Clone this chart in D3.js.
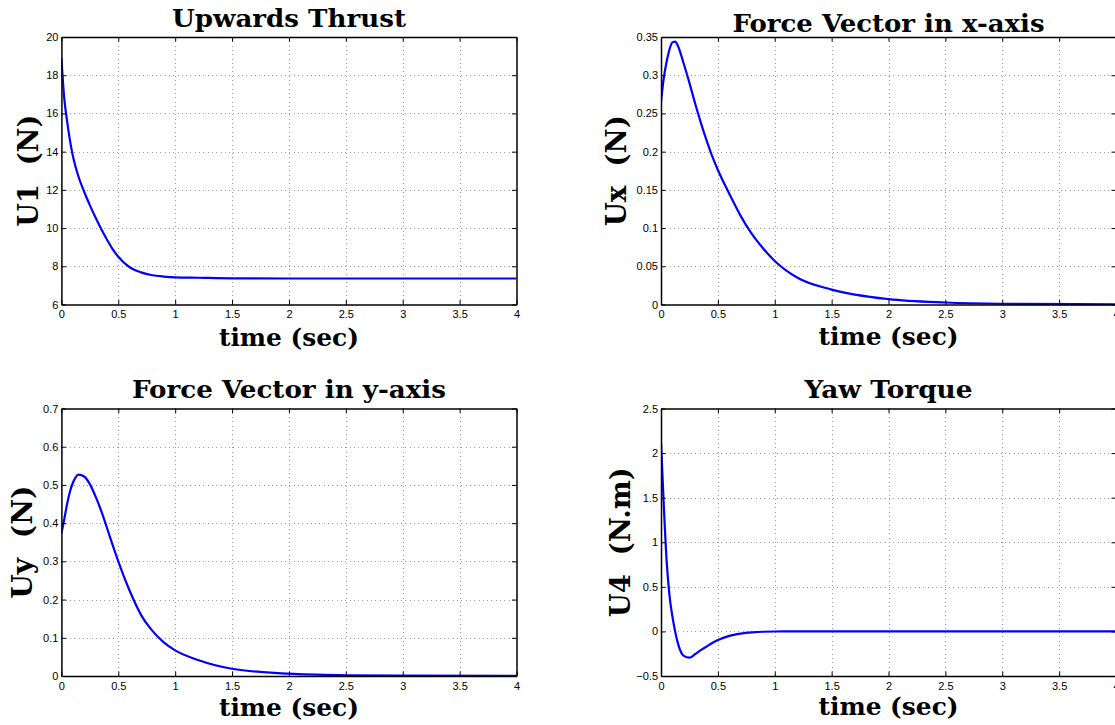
<!DOCTYPE html>
<html>
<head>
<meta charset="utf-8">
<script src="https://cdn.jsdelivr.net/npm/d3@7"></script>
<style>
  html, body { margin: 0; padding: 0; background: #fff; }
  svg { display: block; }
  .tick text { font-family: "Liberation Sans", Arial, sans-serif; font-size: 11px; fill: #000; }
  .lbl { font-family: "DejaVu Serif", serif; font-weight: bold; fill: #000; white-space: pre; }
</style>
</head>
<body>
<svg id="chart" width="1115" height="725"></svg>
<script>
// ---- data ----
const time = [0, 0.025, 0.05, 0.075, 0.1, 0.125, 0.15, 0.2, 0.25, 0.3, 0.35, 0.4, 0.45, 0.5,
              0.6, 0.7, 0.8, 0.9, 1.0, 1.2, 1.5, 2, 2.5, 3, 4];

const u1Values = [18.9, 16.8, 15.6, 14.6, 13.8, 13.2, 12.7, 11.9, 11.2, 10.55, 9.95, 9.4, 8.9, 8.5,
                  7.95, 7.68, 7.53, 7.46, 7.42, 7.4, 7.37, 7.36, 7.36, 7.36, 7.36];

const uxValues = [0.265, 0.297, 0.318, 0.334, 0.343, 0.344, 0.338, 0.315, 0.29, 0.263, 0.238, 0.215, 0.194, 0.176,
                  0.145, 0.116, 0.092, 0.073, 0.057, 0.035, 0.0195, 0.007, 0.0026, 0.001, 0.0003];

const uyValues = [0.373, 0.41, 0.45, 0.482, 0.505, 0.52, 0.527, 0.522, 0.502, 0.47, 0.432, 0.388, 0.343, 0.30,
                  0.223, 0.16, 0.118, 0.088, 0.067, 0.042, 0.019, 0.006, 0.002, 0.0008, 0.0002];

const u4Values = [2.13, 1.40, 0.78, 0.40, 0.17, -0.005, -0.14, -0.275, -0.295, -0.255, -0.21, -0.17, -0.13, -0.097,
                  -0.05, -0.025, -0.011, -0.004, -0.001, 0, 0, 0, 0, 0, 0];

const xTicks = [0, 0.5, 1, 1.5, 2, 2.5, 3, 3.5, 4];
const xTickLabels = ["0", "0.5", "1", "1.5", "2", "2.5", "3", "3.5", "4"];

const u1Ticks = [6, 8, 10, 12, 14, 16, 18, 20];
const u1TickLabels = ["6", "8", "10", "12", "14", "16", "18", "20"];
const uxTicks = [0, 0.05, 0.1, 0.15, 0.2, 0.25, 0.3, 0.35];
const uxTickLabels = ["0", "0.05", "0.1", "0.15", "0.2", "0.25", "0.3", "0.35"];
const uyTicks = [0, 0.1, 0.2, 0.3, 0.4, 0.5, 0.6, 0.7];
const uyTickLabels = ["0", "0.1", "0.2", "0.3", "0.4", "0.5", "0.6", "0.7"];
const u4Ticks = [-0.5, 0, 0.5, 1, 1.5, 2, 2.5];
const u4TickLabels = ["\u22120.5", "0", "0.5", "1", "1.5", "2", "2.5"];

const titles = ["Upwards Thrust", "Force Vector in x-axis", "Force Vector in y-axis", "Yaw Torque"];
const yLabels = ["U1  (N)", "Ux  (N)", "Uy  (N)", "U4  (N.m)"];
const xLabel = "time (sec)";

// ---- layout ----
const panels = [
  { title: titles[0], ylabel: yLabels[0], values: u1Values, yTicks: u1Ticks, yTickLabels: u1TickLabels,
    l: 61.4, r: 516.5, t: 37, b: 304.5, titleY: 27, titleW: 234, xlabY: 345.5, ylabX: 37.5, ylabW: 112 },
  { title: titles[1], ylabel: yLabels[1], values: uxValues, yTicks: uxTicks, yTickLabels: uxTickLabels,
    l: 661, r: 1116, t: 37, b: 304.5, titleY: 32, titleW: 312, xlabY: 345, ylabX: 626, ylabW: 111 },
  { title: titles[2], ylabel: yLabels[2], values: uyValues, yTicks: uyTicks, yTickLabels: uyTickLabels,
    l: 61.4, r: 516.5, t: 408.5, b: 676, titleY: 398, titleW: 314, xlabY: 715.5, ylabX: 32, ylabW: 113 },
  { title: titles[3], ylabel: yLabels[3], values: u4Values, yTicks: u4Ticks, yTickLabels: u4TickLabels,
    l: 661, r: 1116, t: 408.5, b: 676, titleY: 398, titleW: 168, xlabY: 715, ylabX: 630, ylabW: 150 }
];

const svg = d3.select("#chart");
svg.append("rect").attr("width", 1115).attr("height", 725).attr("fill", "#fff");

const TICK = 4.5;

panels.forEach((p, i) => {
  const x = d3.scaleLinear().domain([0, 4]).range([p.l, p.r]);
  const yDom = d3.extent(p.yTicks);
  const y = d3.scaleLinear().domain(yDom).range([p.b, p.t]);
  const g = svg.append("g");

  // grid
  const grid = g.append("g").attr("stroke", "#9a9a9a").attr("stroke-width", 1)
    .attr("stroke-dasharray", "1,3.3").attr("shape-rendering", "crispEdges");
  grid.selectAll("line.v").data(xTicks.slice(1, -1)).join("line")
    .attr("x1", d => Math.round(x(d)) + 0.5).attr("x2", d => Math.round(x(d)) + 0.5)
    .attr("y1", p.t).attr("y2", p.b);
  grid.selectAll("line.h").data(p.yTicks.slice(1, -1)).join("line")
    .attr("y1", d => Math.round(y(d)) + 0.5).attr("y2", d => Math.round(y(d)) + 0.5)
    .attr("x1", p.l).attr("x2", p.r);

  // clip & line
  const cid = "clip" + i;
  svg.append("clipPath").attr("id", cid).append("rect")
    .attr("x", p.l).attr("y", p.t - 2).attr("width", p.r - p.l).attr("height", p.b - p.t + 4);
  const data = time.map((t, k) => [t, p.values[k]]);
  g.append("path").datum(data)
    .attr("clip-path", `url(#${cid})`)
    .attr("fill", "none").attr("stroke", "#0000ff").attr("stroke-width", 2.2)
    .attr("stroke-linejoin", "round")
    .attr("d", d3.line().x(d => x(d[0])).y(d => y(d[1])).curve(d3.curveMonotoneX));

  // axes
  const xFmt = d => xTickLabels[xTicks.indexOf(d)];
  const yFmt = d => p.yTickLabels[p.yTicks.indexOf(d)];
  const styleAxis = sel => {
    sel.select(".domain").attr("stroke", "#000").attr("stroke-width", 1.5);
    sel.selectAll(".tick line").attr("stroke", "#000").attr("stroke-width", 1);
  };
  g.append("g").attr("transform", `translate(0,${p.b})`)
    .call(d3.axisBottom(x).tickValues(xTicks).tickFormat(xFmt).tickSizeInner(-TICK).tickSizeOuter(0).tickPadding(6))
    .call(styleAxis);
  g.append("g").attr("transform", `translate(0,${p.t})`)
    .call(d3.axisTop(x).tickValues(xTicks).tickFormat("").tickSizeInner(-TICK).tickSizeOuter(0))
    .call(styleAxis);
  g.append("g").attr("transform", `translate(${p.l},0)`)
    .call(d3.axisLeft(y).tickValues(p.yTicks).tickFormat(yFmt).tickSizeInner(-TICK).tickSizeOuter(0).tickPadding(3))
    .call(styleAxis);
  g.append("g").attr("transform", `translate(${p.r},0)`)
    .call(d3.axisRight(y).tickValues(p.yTicks).tickFormat("").tickSizeInner(-TICK).tickSizeOuter(0))
    .call(styleAxis);
  g.selectAll(".domain").attr("fill", "none");
  g.selectAll(".tick text").attr("fill", "#000").attr("font-family", null).attr("font-size", null);

  // labels
  const cx = (p.l + p.r) / 2;
  const cy = (p.t + p.b) / 2;
  g.append("text").attr("class", "lbl").attr("x", cx).attr("y", p.titleY)
    .attr("text-anchor", "middle").attr("font-size", 25)
    .attr("textLength", p.titleW).attr("lengthAdjust", "spacingAndGlyphs").text(p.title);
  g.append("text").attr("class", "lbl").attr("x", cx).attr("y", p.xlabY)
    .attr("text-anchor", "middle").attr("font-size", 25)
    .attr("textLength", 140).attr("lengthAdjust", "spacingAndGlyphs").text(xLabel);
  g.append("text").attr("class", "lbl")
    .attr("transform", `translate(${p.ylabX},${cy}) rotate(-90)`)
    .attr("text-anchor", "middle").attr("font-size", 28)
    .attr("textLength", p.ylabW).attr("lengthAdjust", "spacingAndGlyphs").text(p.ylabel);
});
</script>
</body>
</html>
